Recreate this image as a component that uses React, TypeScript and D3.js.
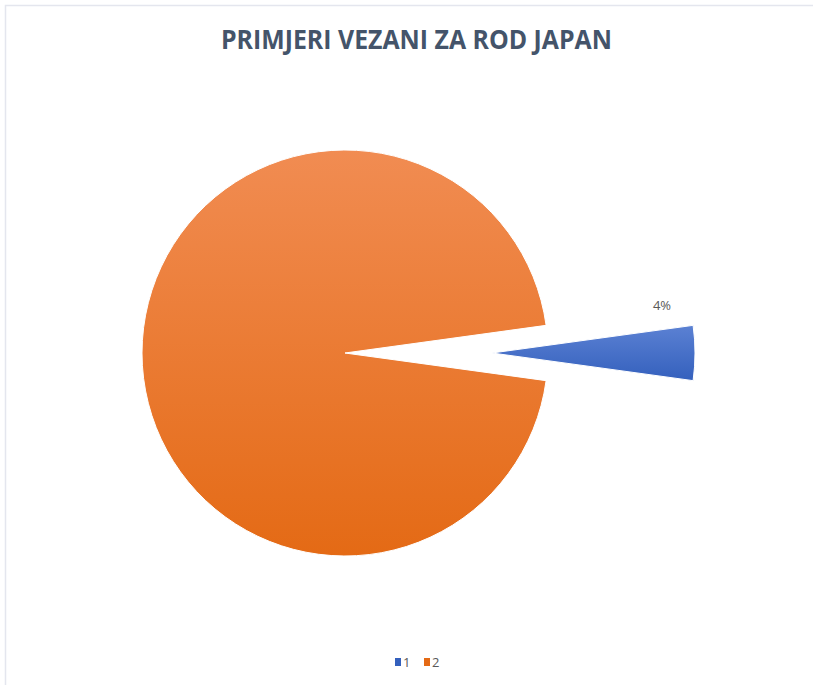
import React from "react";
import * as d3 from "d3";

const categories: string[] = ["1", "2"];
const values: number[] = [1, 22];
const colors = {
  "1": { top: "#5B81D3", bottom: "#3460BD" },
  "2": { top: "#F18C52", bottom: "#E46A15" },
};
const titleText = "PRIMJERI VEZANI ZA ROD JAPAN";

export default function App() {
  const W = 813;
  const H = 685;
  const cx = 345;
  const cy = 353;
  const r = 203;
  const explode = 147;

  const total = d3.sum(values);
  const a0 = (values[0] / total) * 2 * Math.PI;
  const start = Math.PI / 2 - a0 / 2;
  const pie = d3
    .pie<number>()
    .sort(null)
    .value((d) => d)
    .startAngle(start)
    .endAngle(start + 2 * Math.PI);
  const arcs = pie(values);
  const arc = d3.arc<d3.PieArcDatum<number>>().innerRadius(0).outerRadius(r);
  const pct = d3.format(".0%");

  return (
    <svg
      width={W}
      height={H}
      style={{ position: "absolute", left: 0, top: 0, background: "#fff" }}
    >
      <defs>
        {categories.map((c, i) => (
          <linearGradient key={c} id={`g${i}`} x1="0" y1="0" x2="0" y2="1">
            <stop offset="0%" stopColor={colors[c as "1" | "2"].top} />
            <stop offset="100%" stopColor={colors[c as "1" | "2"].bottom} />
          </linearGradient>
        ))}
      </defs>
      <rect x={5.5} y={5.5} width={W + 20} height={H + 20} fill="#fff" stroke="#E4E6EE" strokeWidth={1.5} />
      <text
        x={416.5}
        y={49}
        textAnchor="middle"
        fontFamily="'Open Sans', sans-serif"
        fontWeight={700}
        fontSize={27}
        fill="#44546A"
        textLength={391}
        lengthAdjust="spacingAndGlyphs"
      >
        {titleText}
      </text>
      {arcs.map((a, i) => {
        const mid = (a.startAngle + a.endAngle) / 2;
        const off = i === 0 ? explode : 0;
        const dx = Math.sin(mid) * off;
        const dy = -Math.cos(mid) * off;
        return (
          <g key={i} transform={`translate(${cx + dx},${cy + dy})`}>
            <path d={arc(a) || ""} fill={`url(#g${i})`} stroke="#fff" strokeWidth={1} />
          </g>
        );
      })}
      {arcs.slice(0, 1).map((a, i) => (
        <text
          key={i}
          x={662}
          y={310}
          textAnchor="middle"
          fontFamily="'Open Sans', sans-serif"
          fontSize={13}
          fill="#595959"
        >
          {pct(a.data / total)}
        </text>
      ))}
      <g fontFamily="'Open Sans', sans-serif" fontSize={13} fill="#595959">
        {categories.map((c, i) => {
          const x = 395 + i * 29;
          return (
            <g key={c}>
              <rect x={x} y={658} width={6} height={8} fill={colors[c as "1" | "2"].bottom} />
              <text x={x + 8} y={667}>{c}</text>
            </g>
          );
        })}
      </g>
    </svg>
  );
}
